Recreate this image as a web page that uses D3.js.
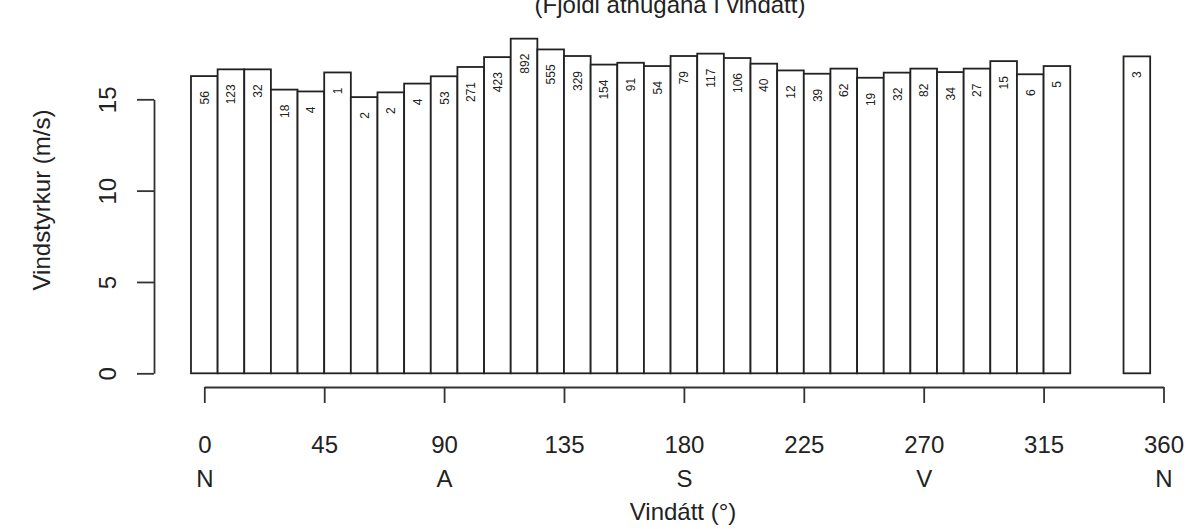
<!DOCTYPE html>
<html>
<head>
<meta charset="utf-8">
<script src="https://cdn.jsdelivr.net/npm/d3@7"></script>
<style>
  body { margin: 0; background: #fff; }
  text { font-family: "Liberation Sans", Arial, sans-serif; fill: #222; }
</style>
</head>
<body>
<div id="vis"></div>
<script>
const directions = [0, 10, 20, 30, 40, 50, 60, 70, 80, 90, 100, 110, 120, 130, 140, 150, 160,
  170, 180, 190, 200, 210, 220, 230, 240, 250, 260, 270, 280, 290, 300, 310, 320, 350];
const speeds = [16.27, 16.64, 16.64, 15.53, 15.43, 16.47, 15.12, 15.38, 15.86, 16.26, 16.77, 17.31, 18.32,
  17.73, 17.37, 16.90, 17.0, 16.82, 17.37, 17.5, 17.26, 16.95, 16.58, 16.40, 16.68,
  16.18, 16.46, 16.68, 16.49, 16.68, 17.09, 16.37, 16.82, 17.35];
const counts = [56, 123, 32, 18, 4, 1, 2, 2, 4, 53, 271, 423, 892, 555, 329, 154, 91, 54, 79,
  117, 106, 40, 12, 39, 62, 19, 32, 82, 34, 27, 15, 6, 5, 3];
const xTicks = [0, 45, 90, 135, 180, 225, 270, 315, 360];
const compass = {0: 'N', 90: 'A', 180: 'S', 270: 'V', 360: 'N'};
const yTicks = [0, 5, 10, 15];

const W = 1195, H = 529;
const svg = d3.select('#vis').append('svg')
    .attr('width', W)
    .attr('height', H);

const x = d3.scaleLinear().domain([0, 360]).range([204.3, 1163.5]);
const y = d3.scaleLinear().domain([0, 15]).range([373.3, 99.3]);
const bw = x(10) - x(0);

// bars
const bars = svg.append('g');
bars.selectAll('rect')
  .data(directions)
  .join('rect')
    .attr('x', d => x(d) - bw / 2)
    .attr('width', bw)
    .attr('y', (d, i) => y(speeds[i]))
    .attr('height', (d, i) => y(0) - y(speeds[i]))
    .attr('fill', '#fff')
    .attr('stroke', '#222')
    .attr('stroke-width', 1.8);

bars.selectAll('text')
  .data(directions)
  .join('text')
    .attr('transform', (d, i) => `translate(${x(d) + 4.5}, ${y(speeds[i]) + 15}) rotate(-90)`)
    .attr('text-anchor', 'end')
    .attr('font-size', 12)
    .text((d, i) => counts[i]);

// y axis
const yAxis = svg.append('g')
    .attr('transform', 'translate(154, 0)')
    .call(d3.axisLeft(y).tickValues(yTicks).tickSize(17).tickSizeOuter(0));
yAxis.selectAll('path, line').attr('stroke', '#333').attr('stroke-width', 1.8);
yAxis.selectAll('text')
    .attr('font-size', 24)
    .attr('fill', '#222')
    .attr('x', null).attr('dy', null)
    .attr('text-anchor', 'middle')
    .attr('transform', 'translate(-38, 0) rotate(-90)');

// x axis
const xAxis = svg.append('g')
    .attr('transform', 'translate(0, 387)')
    .call(d3.axisBottom(x).tickValues(xTicks).tickSize(16).tickSizeOuter(0));
xAxis.selectAll('path, line').attr('stroke', '#333').attr('stroke-width', 1.8);
xAxis.selectAll('text')
    .attr('font-size', 24)
    .attr('fill', '#222')
    .attr('dy', null)
    .attr('y', 66);
xAxis.selectAll('.tick')
  .filter(d => compass[d])
  .append('text')
    .attr('y', 100)
    .attr('text-anchor', 'middle')
    .attr('font-size', 24)
    .attr('fill', '#222')
    .text(d => compass[d]);
xAxis.attr('font-family', null);
yAxis.attr('font-family', null);

// titles
svg.append('text')
    .attr('x', 683)
    .attr('y', 520)
    .attr('text-anchor', 'middle')
    .attr('font-size', 24)
    .text('Vindátt (°)');

svg.append('text')
    .attr('transform', 'translate(50, 200) rotate(-90)')
    .attr('text-anchor', 'middle')
    .attr('font-size', 24)
    .text('Vindstyrkur (m/s)');

svg.append('text')
    .attr('x', 670)
    .attr('y', 13)
    .attr('text-anchor', 'middle')
    .attr('font-size', 24)
    .text('(Fjöldi athugana í vindátt)');
</script>
</body>
</html>
